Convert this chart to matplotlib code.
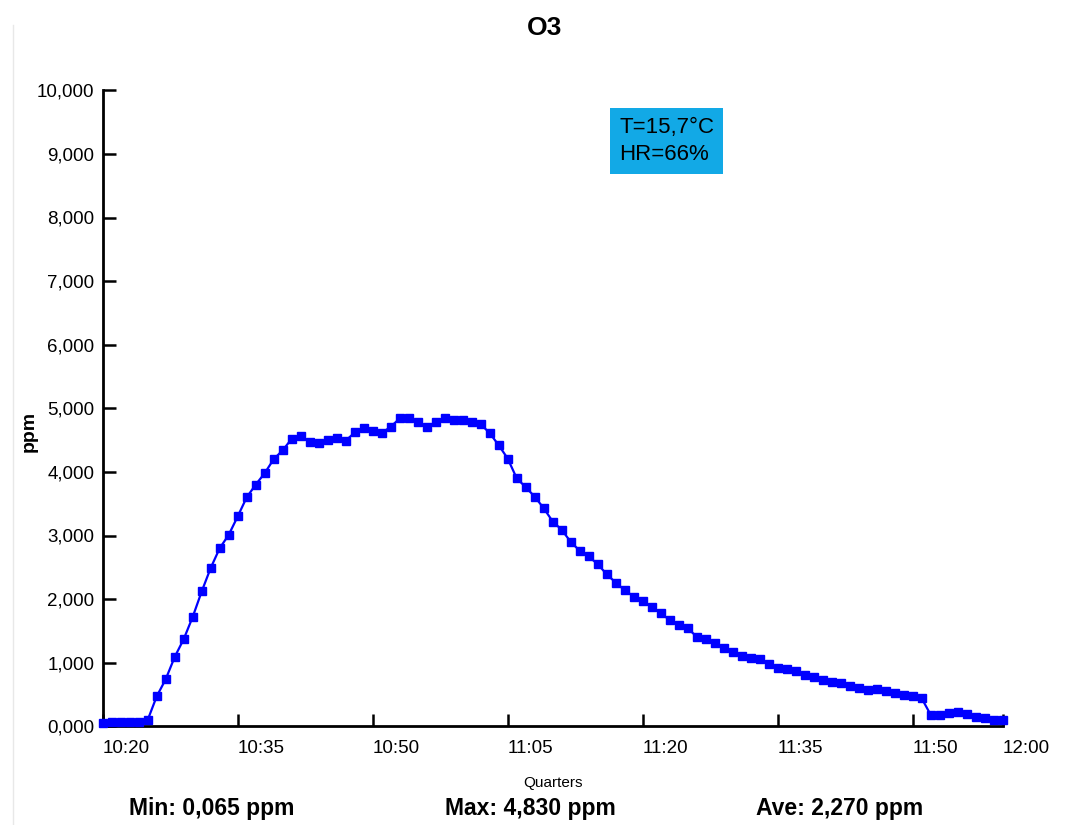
import numpy as np
import matplotlib
matplotlib.use("Agg")
import matplotlib.pyplot as plt
from matplotlib.ticker import FuncFormatter
from matplotlib.lines import Line2D

plt.rcParams['font.family'] = ['Liberation Sans', 'DejaVu Sans']

# O3 readings, one per minute starting 10:20 (ppm)
o3 = [0.057, 0.07, 0.07, 0.065, 0.065, 0.10, 0.47, 0.74, 1.09, 1.37,
      1.72, 2.12, 2.49, 2.80, 3.01, 3.30, 3.60, 3.80, 3.98, 4.20,
      4.34, 4.52, 4.57, 4.47, 4.46, 4.50, 4.54, 4.49, 4.62, 4.69,
      4.64, 4.61, 4.71, 4.84, 4.84, 4.78, 4.70, 4.79, 4.85, 4.82,
      4.82, 4.78, 4.75, 4.61, 4.42, 4.21, 3.90, 3.76, 3.61, 3.43,
      3.22, 3.09, 2.90, 2.76, 2.67, 2.55, 2.39, 2.26, 2.14, 2.04,
      1.97, 1.87, 1.78, 1.67, 1.60, 1.54, 1.41, 1.37, 1.31, 1.23,
      1.17, 1.11, 1.08, 1.06, 0.98, 0.92, 0.90, 0.87, 0.81, 0.78,
      0.73, 0.70, 0.68, 0.63, 0.61, 0.57, 0.59, 0.56, 0.53, 0.49,
      0.47, 0.44, 0.18, 0.18, 0.21, 0.22, 0.19, 0.14, 0.13, 0.10,
      0.10]
minutes = np.arange(len(o3))  # minutes after 10:20

tick_minutes = [0, 15, 30, 45, 60, 75, 90, 100]
tick_labels = ["10:20", "10:35", "10:50", "11:05", "11:20", "11:35", "11:50", "12:00"]
y_ticks = list(range(0, 11))

stats = ["Min: 0,065 ppm", "Max: 4,830 ppm", "Ave: 2,270 ppm"]
stats_x = [212, 530, 840]
conditions = "T=15,7°C\nHR=66%"

W, H = 1073, 825
fig = plt.figure(figsize=(W / 100, H / 100), dpi=100)
ax = fig.add_axes([102.7 / W, (H - 726.3) / H, 900 / W, 636 / H])

ax.plot(minutes, o3, color='#0000ff', lw=1.6, marker='s', ms=5.4,
        mec='#0000ff', mfc='#0000ff', clip_on=False, zorder=3)

ax.set_xlim(0, 100)
ax.set_ylim(0, 10)
for s in ['top', 'right']:
    ax.spines[s].set_visible(False)
for s in ['left', 'bottom']:
    ax.spines[s].set_linewidth(2)
    ax.spines[s].set_color('black')

ax.set_xticks(tick_minutes)
ax.set_xticklabels(tick_labels, ha='left')
ax.set_yticks(y_ticks)
ax.yaxis.set_major_formatter(FuncFormatter(lambda v, p: f"{v:.3f}".replace('.', ',')))
ax.tick_params(axis='both', direction='in', length=9, width=1.8, color='black')
ax.tick_params(axis='x', pad=10, labelsize=13.5)
ax.tick_params(axis='y', pad=6, labelsize=13.5)

ax.set_ylabel("ppm", fontsize=14, fontweight='bold')
ax.yaxis.set_label_coords(-0.072, 0.463)

fig.text(545 / W, 1 - 28 / H, "O3", ha='center', va='center',
         fontsize=19, fontweight='bold')
fig.text(553 / W, 1 - 783 / H, "Quarters", ha='center', va='center', fontsize=11)
for txt, x in zip(stats, stats_x):
    fig.text(x / W, 1 - 809 / H, txt, ha='center', va='center',
             fontsize=16.5, fontweight='bold')

fig.text(619 / W, 1 - 141 / H, conditions, ha='left', va='center',
         fontsize=16, linespacing=1.4,
         bbox=dict(boxstyle='square,pad=0.4', fc='#12a9e6', ec='none'))

fig.add_artist(Line2D([13 / W, 13 / W], [0, 1 - 25 / H], transform=fig.transFigure,
                      color='#e8e8e8', lw=1))

fig.savefig("out.png", dpi=100)
